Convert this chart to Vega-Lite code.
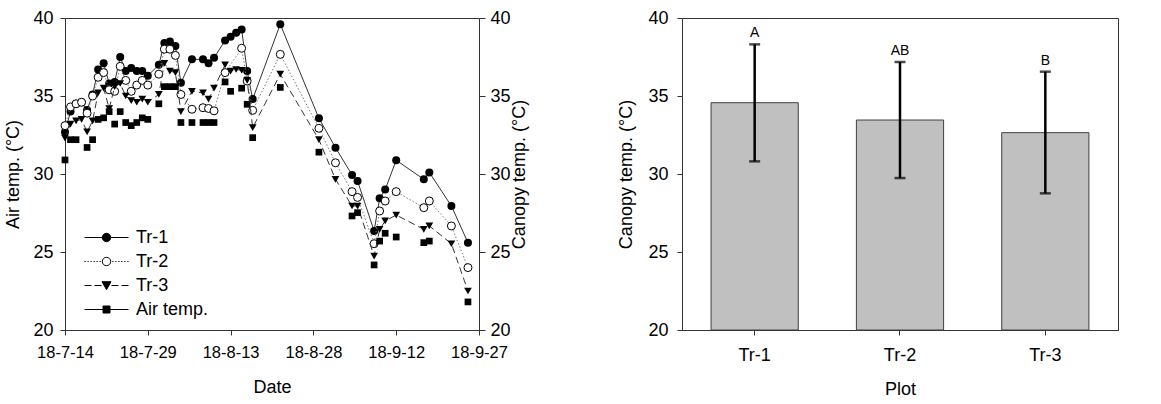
{
"$schema": "https://vega.github.io/schema/vega-lite/v6.json",
"padding": {"left": 4, "top": 8, "right": 40, "bottom": 5},
"spacing": 88,
"datasets": {
"ts": [
{"date":"2018/07/14","s":"Tr-1","v":32.7},{"date":"2018/07/14","s":"Tr-2","v":33.1},{"date":"2018/07/14","s":"Tr-3","v":32.3},{"date":"2018/07/14","s":"Air temp.","v":30.9},
{"date":"2018/07/15","s":"Tr-1","v":34.0},{"date":"2018/07/15","s":"Tr-2","v":34.3},{"date":"2018/07/15","s":"Tr-3","v":33.2},{"date":"2018/07/15","s":"Air temp.","v":32.2},
{"date":"2018/07/16","s":"Tr-1","v":34.5},{"date":"2018/07/16","s":"Tr-2","v":34.5},{"date":"2018/07/16","s":"Tr-3","v":33.4},{"date":"2018/07/16","s":"Air temp.","v":32.2},
{"date":"2018/07/17","s":"Tr-1","v":34.6},{"date":"2018/07/17","s":"Tr-2","v":34.6},{"date":"2018/07/17","s":"Tr-3","v":33.5},
{"date":"2018/07/18","s":"Tr-1","v":34.1},{"date":"2018/07/18","s":"Tr-2","v":33.9},{"date":"2018/07/18","s":"Tr-3","v":32.7},{"date":"2018/07/18","s":"Air temp.","v":31.7},
{"date":"2018/07/19","s":"Tr-1","v":35.1},{"date":"2018/07/19","s":"Tr-2","v":35.0},{"date":"2018/07/19","s":"Tr-3","v":33.4},{"date":"2018/07/19","s":"Air temp.","v":32.2},
{"date":"2018/07/20","s":"Tr-1","v":36.7},{"date":"2018/07/20","s":"Tr-2","v":36.2},{"date":"2018/07/20","s":"Tr-3","v":35.2},{"date":"2018/07/20","s":"Air temp.","v":33.5},
{"date":"2018/07/21","s":"Tr-1","v":37.1},{"date":"2018/07/21","s":"Tr-2","v":36.5},{"date":"2018/07/21","s":"Tr-3","v":35.5},{"date":"2018/07/21","s":"Air temp.","v":33.6},
{"date":"2018/07/22","s":"Tr-1","v":35.8},{"date":"2018/07/22","s":"Tr-2","v":35.4},{"date":"2018/07/22","s":"Tr-3","v":34.2},{"date":"2018/07/22","s":"Air temp.","v":34.0},
{"date":"2018/07/23","s":"Tr-1","v":35.9},{"date":"2018/07/23","s":"Tr-2","v":35.3},{"date":"2018/07/23","s":"Tr-3","v":35.6},{"date":"2018/07/23","s":"Air temp.","v":33.2},
{"date":"2018/07/24","s":"Tr-1","v":37.5},{"date":"2018/07/24","s":"Tr-2","v":36.9},{"date":"2018/07/24","s":"Tr-3","v":35.8},{"date":"2018/07/24","s":"Air temp.","v":34.0},
{"date":"2018/07/25","s":"Tr-1","v":36.6},{"date":"2018/07/25","s":"Tr-2","v":36.0},{"date":"2018/07/25","s":"Tr-3","v":35.0},{"date":"2018/07/25","s":"Air temp.","v":33.3},
{"date":"2018/07/26","s":"Tr-1","v":36.8},{"date":"2018/07/26","s":"Tr-2","v":35.3},{"date":"2018/07/26","s":"Tr-3","v":34.7},{"date":"2018/07/26","s":"Air temp.","v":33.1},
{"date":"2018/07/27","s":"Tr-1","v":36.6},{"date":"2018/07/27","s":"Tr-2","v":35.7},{"date":"2018/07/27","s":"Tr-3","v":34.6},{"date":"2018/07/27","s":"Air temp.","v":33.3},
{"date":"2018/07/28","s":"Tr-1","v":36.6},{"date":"2018/07/28","s":"Tr-2","v":36.0},{"date":"2018/07/28","s":"Tr-3","v":34.8},{"date":"2018/07/28","s":"Air temp.","v":33.6},
{"date":"2018/07/29","s":"Tr-1","v":36.3},{"date":"2018/07/29","s":"Tr-2","v":35.7},{"date":"2018/07/29","s":"Tr-3","v":34.6},{"date":"2018/07/29","s":"Air temp.","v":33.5},
{"date":"2018/07/31","s":"Tr-1","v":37.0},{"date":"2018/07/31","s":"Tr-2","v":36.4},{"date":"2018/07/31","s":"Tr-3","v":35.1},{"date":"2018/07/31","s":"Air temp.","v":34.5},
{"date":"2018/08/01","s":"Tr-1","v":38.4},{"date":"2018/08/01","s":"Tr-2","v":38.0},{"date":"2018/08/01","s":"Tr-3","v":37.1},{"date":"2018/08/01","s":"Air temp.","v":35.6},
{"date":"2018/08/02","s":"Tr-1","v":38.5},{"date":"2018/08/02","s":"Tr-2","v":38.0},{"date":"2018/08/02","s":"Tr-3","v":36.6},{"date":"2018/08/02","s":"Air temp.","v":35.6},
{"date":"2018/08/03","s":"Tr-1","v":38.2},{"date":"2018/08/03","s":"Tr-2","v":37.6},{"date":"2018/08/03","s":"Tr-3","v":36.5},{"date":"2018/08/03","s":"Air temp.","v":35.6},
{"date":"2018/08/04","s":"Tr-1","v":35.85},{"date":"2018/08/04","s":"Tr-2","v":35.1},{"date":"2018/08/04","s":"Tr-3","v":34.0},{"date":"2018/08/04","s":"Air temp.","v":33.3},
{"date":"2018/08/06","s":"Tr-1","v":37.35},{"date":"2018/08/06","s":"Tr-2","v":34.15},{"date":"2018/08/06","s":"Tr-3","v":35.3},{"date":"2018/08/06","s":"Air temp.","v":33.3},
{"date":"2018/08/08","s":"Tr-1","v":37.35},{"date":"2018/08/08","s":"Tr-2","v":34.25},{"date":"2018/08/08","s":"Tr-3","v":35.2},{"date":"2018/08/08","s":"Air temp.","v":33.3},
{"date":"2018/08/09","s":"Tr-1","v":37.1},{"date":"2018/08/09","s":"Tr-2","v":34.2},{"date":"2018/08/09","s":"Tr-3","v":34.8},{"date":"2018/08/09","s":"Air temp.","v":33.3},
{"date":"2018/08/10","s":"Tr-1","v":37.45},{"date":"2018/08/10","s":"Tr-2","v":34.05},{"date":"2018/08/10","s":"Tr-3","v":35.5},{"date":"2018/08/10","s":"Air temp.","v":33.3},
{"date":"2018/08/12","s":"Tr-1","v":38.55},{"date":"2018/08/12","s":"Tr-2","v":36.5},{"date":"2018/08/12","s":"Tr-3","v":37.0},{"date":"2018/08/12","s":"Air temp.","v":35.9},
{"date":"2018/08/13","s":"Tr-1","v":38.8},{"date":"2018/08/13","s":"Tr-3","v":36.6},{"date":"2018/08/13","s":"Air temp.","v":35.3},
{"date":"2018/08/14","s":"Tr-1","v":39.05},{"date":"2018/08/14","s":"Tr-3","v":36.7},
{"date":"2018/08/15","s":"Tr-1","v":39.27},{"date":"2018/08/15","s":"Tr-2","v":38.06},{"date":"2018/08/15","s":"Tr-3","v":36.65},{"date":"2018/08/15","s":"Air temp.","v":35.5},
{"date":"2018/08/16","s":"Tr-1","v":36.6},{"date":"2018/08/16","s":"Tr-2","v":35.96},{"date":"2018/08/16","s":"Tr-3","v":36.0},{"date":"2018/08/16","s":"Air temp.","v":34.47},
{"date":"2018/08/17","s":"Tr-1","v":34.8},{"date":"2018/08/17","s":"Tr-2","v":34.08},{"date":"2018/08/17","s":"Tr-3","v":32.97},{"date":"2018/08/17","s":"Air temp.","v":32.33},
{"date":"2018/08/22","s":"Tr-1","v":39.6},{"date":"2018/08/22","s":"Tr-2","v":37.67},{"date":"2018/08/22","s":"Tr-3","v":36.4},{"date":"2018/08/22","s":"Air temp.","v":35.55},
{"date":"2018/08/29","s":"Tr-1","v":33.57},{"date":"2018/08/29","s":"Tr-2","v":32.93},{"date":"2018/08/29","s":"Tr-3","v":32.2},{"date":"2018/08/29","s":"Air temp.","v":31.4},
{"date":"2018/09/01","s":"Tr-1","v":31.69},{"date":"2018/09/01","s":"Tr-2","v":30.72},{"date":"2018/09/01","s":"Tr-3","v":29.66},
{"date":"2018/09/04","s":"Tr-1","v":29.94},{"date":"2018/09/04","s":"Tr-2","v":28.87},{"date":"2018/09/04","s":"Tr-3","v":27.95},{"date":"2018/09/04","s":"Air temp.","v":27.31},
{"date":"2018/09/05","s":"Tr-1","v":29.55},{"date":"2018/09/05","s":"Tr-2","v":28.5},{"date":"2018/09/05","s":"Tr-3","v":27.95},{"date":"2018/09/05","s":"Air temp.","v":27.52},
{"date":"2018/09/08","s":"Tr-1","v":26.35},{"date":"2018/09/08","s":"Tr-2","v":25.53},{"date":"2018/09/08","s":"Tr-3","v":24.74},{"date":"2018/09/08","s":"Air temp.","v":24.17},
{"date":"2018/09/09","s":"Tr-1","v":28.44},{"date":"2018/09/09","s":"Tr-2","v":27.63},{"date":"2018/09/09","s":"Tr-3","v":26.45},{"date":"2018/09/09","s":"Air temp.","v":25.7},
{"date":"2018/09/10","s":"Tr-1","v":29.0},{"date":"2018/09/10","s":"Tr-2","v":28.27},{"date":"2018/09/10","s":"Tr-3","v":26.99},{"date":"2018/09/10","s":"Air temp.","v":26.2},
{"date":"2018/09/12","s":"Tr-1","v":30.88},{"date":"2018/09/12","s":"Tr-2","v":28.87},{"date":"2018/09/12","s":"Tr-3","v":27.37},{"date":"2018/09/12","s":"Air temp.","v":25.96},
{"date":"2018/09/17","s":"Tr-1","v":29.66},{"date":"2018/09/17","s":"Tr-2","v":27.84},{"date":"2018/09/17","s":"Tr-3","v":26.45},{"date":"2018/09/17","s":"Air temp.","v":25.6},
{"date":"2018/09/18","s":"Tr-1","v":30.1},{"date":"2018/09/18","s":"Tr-2","v":28.27},{"date":"2018/09/18","s":"Tr-3","v":26.67},{"date":"2018/09/18","s":"Air temp.","v":25.7},
{"date":"2018/09/22","s":"Tr-1","v":27.95},{"date":"2018/09/22","s":"Tr-2","v":26.67},{"date":"2018/09/22","s":"Tr-3","v":25.53},
{"date":"2018/09/25","s":"Tr-1","v":25.6},{"date":"2018/09/25","s":"Tr-2","v":24.0},{"date":"2018/09/25","s":"Tr-3","v":22.5},{"date":"2018/09/25","s":"Air temp.","v":21.8}
],
"bars": [
{"plot":"Tr-1","mean":34.57,"lo":30.81,"hi":38.31,"letter":"A"},
{"plot":"Tr-2","mean":33.46,"lo":29.74,"hi":37.18,"letter":"AB"},
{"plot":"Tr-3","mean":32.65,"lo":28.76,"hi":36.56,"letter":"B"}
]
},
"hconcat": [
{
"width": 414, "height": 312,
"data": {"name": "ts"},
"layer": [
{
"encoding": {
"x": {"field": "date", "type": "temporal", "scale": {"domain": [{"year":2018,"month":7,"date":14},{"year":2018,"month":9,"date":27}]},
"axis": {"title": "Date", "format": "%y-%-m-%-d", "values": [{"year":2018,"month":7,"date":14},{"year":2018,"month":7,"date":29},{"year":2018,"month":8,"date":13},{"year":2018,"month":8,"date":28},{"year":2018,"month":9,"date":12},{"year":2018,"month":9,"date":27}], "labelFlush": false, "labelOverlap": false, "labelFontSize": 16.5, "labelPadding": 9, "titlePadding": 18, "tickSize": 5}},
"y": {"field": "v", "type": "quantitative", "scale": {"domain": [20, 40], "nice": false, "zero": false},
"axis": {"title": "Air temp. (°C)", "values": [20,25,30,35,40], "titlePadding": 10, "labelPadding": 7, "tickSize": 5}}
},
"layer": [
{"transform": [{"filter": "datum.s == 'Tr-1'"}], "mark": {"type": "line", "stroke": "#333", "strokeWidth": 1}},
{"transform": [{"filter": "datum.s == 'Tr-1'"}], "mark": {"type": "point", "shape": "circle", "filled": true, "fill": "black", "size": 64, "opacity": 1}},
{"transform": [{"filter": "datum.s == 'Tr-2'"}], "mark": {"type": "line", "stroke": "#777", "strokeWidth": 1, "strokeDash": [1.5, 2]}},
{"transform": [{"filter": "datum.s == 'Tr-2'"}], "mark": {"type": "point", "shape": "circle", "filled": true, "fill": "white", "stroke": "black", "strokeWidth": 1, "size": 64, "opacity": 1}},
{"transform": [{"filter": "datum.s == 'Tr-3'"}], "mark": {"type": "line", "stroke": "#333", "strokeWidth": 1, "strokeDash": [7, 4]}},
{"transform": [{"filter": "datum.s == 'Tr-3'"}], "mark": {"type": "point", "shape": "triangle-down", "filled": true, "fill": "black", "size": 60, "opacity": 1}},
{"transform": [{"filter": "datum.s == 'Air temp.'"}], "mark": {"type": "point", "shape": "square", "filled": true, "fill": "black", "size": 45, "opacity": 1}},
{"mark": {"type": "point", "opacity": 0, "filled": true},
"encoding": {
"shape": {"field": "s", "type": "nominal", "scale": {"domain": ["Tr-1","Tr-2","Tr-3","Air temp."], "range": [
"M-2.2,0L-0.42,0M0.42,0L2.2,0M-0.42,0A0.42,0.42,0,1,0,0.42,0A0.42,0.42,0,1,0,-0.42,0Z",
"M-2.2,0L-2.08,0M-1.9,0L-1.78,0M-1.6,0L-1.48,0M-1.3,0L-1.18,0M-1.0,0L-0.88,0M-0.7,0L-0.58,0M0.58,0L0.7,0M0.88,0L1.0,0M1.18,0L1.3,0M1.48,0L1.6,0M1.78,0L1.9,0M2.08,0L2.2,0M-0.42,0A0.42,0.42,0,1,0,0.42,0A0.42,0.42,0,1,0,-0.42,0Z",
"M-2.2,0L-1.5,0M-1.2,0L-0.5,0M0.5,0L1.2,0M1.5,0L2.2,0M-0.45,-0.38L0.45,-0.38L0,0.42Z",
"M-2.2,0L-0.35,0M0.35,0L2.2,0M-0.35,-0.35L0.35,-0.35L0.35,0.35L-0.35,0.35Z"
]}, "legend": {"title": null, "orient": "none", "legendX": 31, "legendY": 209, "symbolSize": 400, "labelOffset": 19, "rowPadding": 4, "labelFontSize": 18, "symbolStrokeWidth": 1, "symbolStrokeColor": "black", "symbolOpacity": 1,
"encode": {"symbols": {"update": {"opacity": {"value": 1}, "stroke": {"value": "black"}, "strokeWidth": {"value": 1}}}}}},
"fill": {"field": "s", "type": "nominal", "scale": {"domain": ["Tr-1","Tr-2","Tr-3","Air temp."], "range": ["black","white","black","black"]}, "legend": {"title": null, "orient": "none", "legendX": 31, "legendY": 209, "symbolSize": 400, "labelOffset": 19, "rowPadding": 4, "labelFontSize": 18, "symbolStrokeWidth": 1, "symbolStrokeColor": "black", "symbolOpacity": 1,
"encode": {"symbols": {"update": {"opacity": {"value": 1}, "stroke": {"value": "black"}, "strokeWidth": {"value": 1}}}}}}
}}
]
},
{
"mark": {"type": "point", "opacity": 0},
"encoding": {
"x": {"field": "date", "type": "temporal"},
"y": {"field": "v", "type": "quantitative", "scale": {"domain": [20, 40], "nice": false, "zero": false},
"axis": {"orient": "right", "title": "Canopy temp. (°C)", "titleAngle": 270, "titleBaseline": "top", "values": [20,25,30,35,40], "titlePadding": 0, "labelPadding": 5, "tickSize": 6}}
}
}
],
"resolve": {"scale": {"y": "independent"}}
},
{
"width": 436, "height": 312,
"data": {"name": "bars"},
"encoding": {
"x": {"field": "plot", "type": "nominal", "scale": {"paddingInner": 0.4, "paddingOuter": 0.2}, "axis": {"title": "Plot", "labelAngle": 0, "labelPadding": 11, "titlePadding": 16, "tickSize": 5}}
},
"layer": [
{"mark": {"type": "bar", "fill": "#c0c0c0", "stroke": "#404040", "strokeWidth": 1},
"encoding": {"y": {"field": "mean", "type": "quantitative", "scale": {"domain": [20, 40], "nice": false, "zero": false}, "axis": {"title": "Canopy temp. (°C)", "values": [20,25,30,35,40], "titlePadding": 12, "labelPadding": 9, "tickSize": 5}}, "y2": {"datum": 20}}},
{"mark": {"type": "rule", "color": "black", "strokeWidth": 2.5}, "encoding": {"y": {"field": "lo", "type": "quantitative"}, "y2": {"field": "hi"}}},
{"mark": {"type": "tick", "color": "black", "size": 11, "thickness": 2.5, "orient": "horizontal"}, "encoding": {"y": {"field": "hi", "type": "quantitative"}}},
{"mark": {"type": "tick", "color": "black", "size": 11, "thickness": 2.5, "orient": "horizontal"}, "encoding": {"y": {"field": "lo", "type": "quantitative"}}},
{"mark": {"type": "text", "baseline": "bottom", "dy": -4, "fontSize": 14, "font": "Liberation Sans", "color": "black"}, "encoding": {"y": {"field": "hi", "type": "quantitative"}, "text": {"field": "letter"}}}
]
}
],
"config": {
"font": "Liberation Sans",
"view": {"stroke": "#333", "strokeWidth": 1},
"axis": {"labelFont": "Liberation Sans", "titleFont": "Liberation Sans", "labelFontSize": 18, "titleFontSize": 18, "titleFontWeight": "normal", "labelColor": "black", "titleColor": "black", "domainColor": "#333", "tickColor": "#333", "grid": false},
"legend": {"labelFont": "Liberation Sans", "labelColor": "black"}
}
}
